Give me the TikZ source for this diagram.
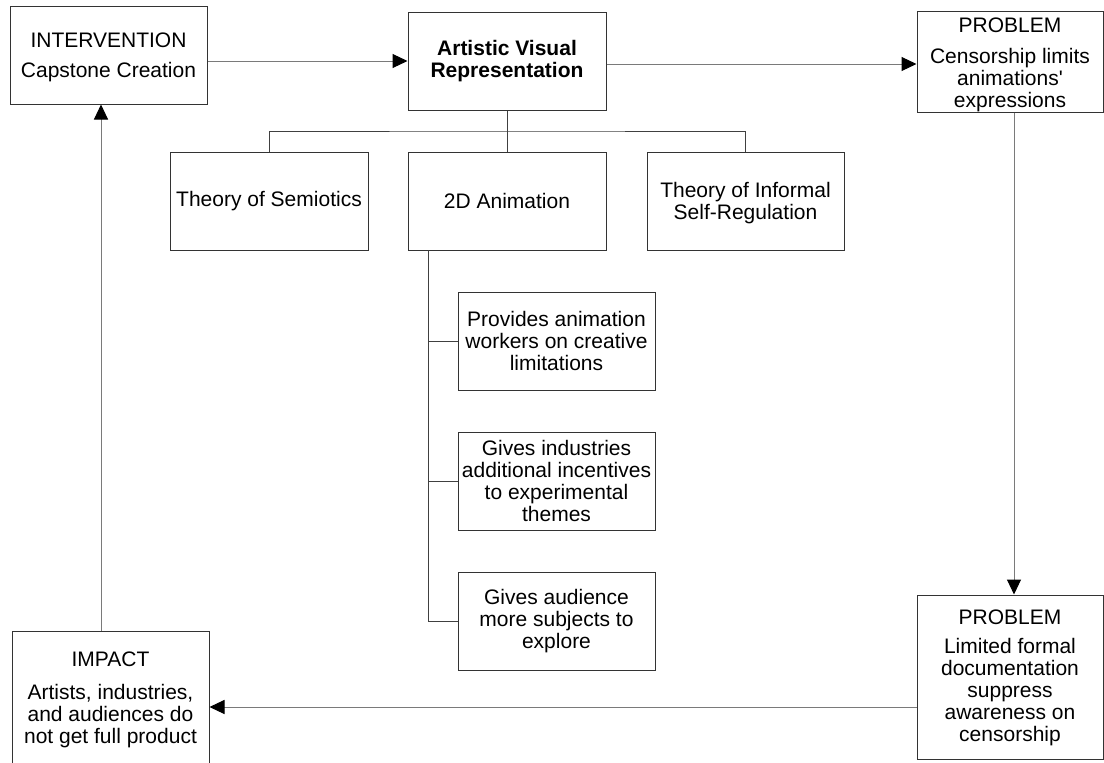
\documentclass[tikz,border=0pt]{standalone}
\usepackage{fontspec}
\setmainfont{Liberation Sans}[Ligatures=TeXOff]
\usetikzlibrary{arrows.meta,calc}
\definecolor{boxline}{HTML}{333333}
\definecolor{arrline}{HTML}{7A7A7A}
\definecolor{treeline}{HTML}{404040}
\newcommand{\topstrut}[1]{\rule{0pt}{#1pt}}
\tikzset{
  box/.style={draw=boxline, line width=1pt, rectangle, inner sep=0pt, align=center,
              font=\fontsize{21}{22}\selectfont, text=black},
  arr/.style={draw=arrline, line width=1pt, -{Triangle[length=15pt,width=14pt,black]}},
  tree/.style={draw=treeline, line width=1pt},
}
\begin{document}
\begin{tikzpicture}[x=1pt,y=-1pt]
\useasboundingbox (0,0) rectangle (1104,763);
\clip (0,0) rectangle (1104,763);
% top row
\node[box, minimum width=197pt, minimum height=98pt] (iv) at (108.5,55) {\topstrut{19}INTERVENTION\\[8pt]Capstone Creation};
\node[box, minimum width=198pt, minimum height=98pt, font=\fontsize{21}{22}\selectfont\bfseries] (avr) at (507,61) {Artistic Visual\\Representation};
\node[box, minimum width=186pt, minimum height=98pt] (p1) at (1010,62) {\topstrut{21}PROBLEM\\[9pt]Censorship limits\\animations'\\expressions};
% second row
\node[box, minimum width=198pt, minimum height=98pt] (sem) at (269,201) {Theory of Semiotics};
\node[box, minimum width=198pt, minimum height=98pt] (anim) at (507,201) {2D Animation};
\node[box, minimum width=197pt, minimum height=98pt] (inf) at (745.5,201) {\topstrut{19}Theory of Informal\\Self-Regulation};
% sub boxes
\node[box, minimum width=197pt, minimum height=98pt] (pr) at (556.5,341) {Provides animation\\workers on creative\\limitations};
\node[box, minimum width=197pt, minimum height=98pt] (gi) at (556.5,481) {Gives industries\\additional incentives\\to experimental\\themes};
\node[box, minimum width=197pt, minimum height=98pt] (ga) at (556.5,621) {Gives audience\\more subjects to\\explore};
% bottom row
\node[box, minimum width=186pt, minimum height=164pt] (p2) at (1010,677) {\topstrut{17}PROBLEM\\[7pt]Limited formal\\documentation\\suppress\\awareness on\\censorship};
\node[box, minimum width=197pt, minimum height=134pt] (imp) at (110.5,698) {\topstrut{19}IMPACT\\[11pt]Artists, industries,\\and audiences do\\not get full product};
% tree
\coordinate (bus) at (507,131);
\coordinate (tr) at (428,250);
\draw[tree] (avr.south) -- (anim.north);
\draw[tree] (sem.north) |- (bus) -| (inf.north);
\draw[tree] (tr) |- (ga.west);
\draw[tree] (tr |- pr.west) -- (pr.west);
\draw[tree] (tr |- gi.west) -- (gi.west);
% cycle arrows
\draw[arr] (avr.west -| iv.east) -- (avr.west);
\draw[arr] ($(p1.west -| avr.east)+(0,2)$) -- ($(p1.west)+(0,2)$);
\coordinate (p1s) at ($(p1.south)+(4,0)$);
\draw[arr] (p1s) -- (p1s |- p2.north);
\coordinate (p2w) at ($(p2.west |- imp.east)+(0,9)$);
\draw[arr] (p2w) -- (p2w -| imp.east);
\coordinate (impn) at ($(imp.north)+(-9.5,0)$);
\draw[arr] (impn) -- (impn |- iv.south);
\end{tikzpicture}
\end{document}
